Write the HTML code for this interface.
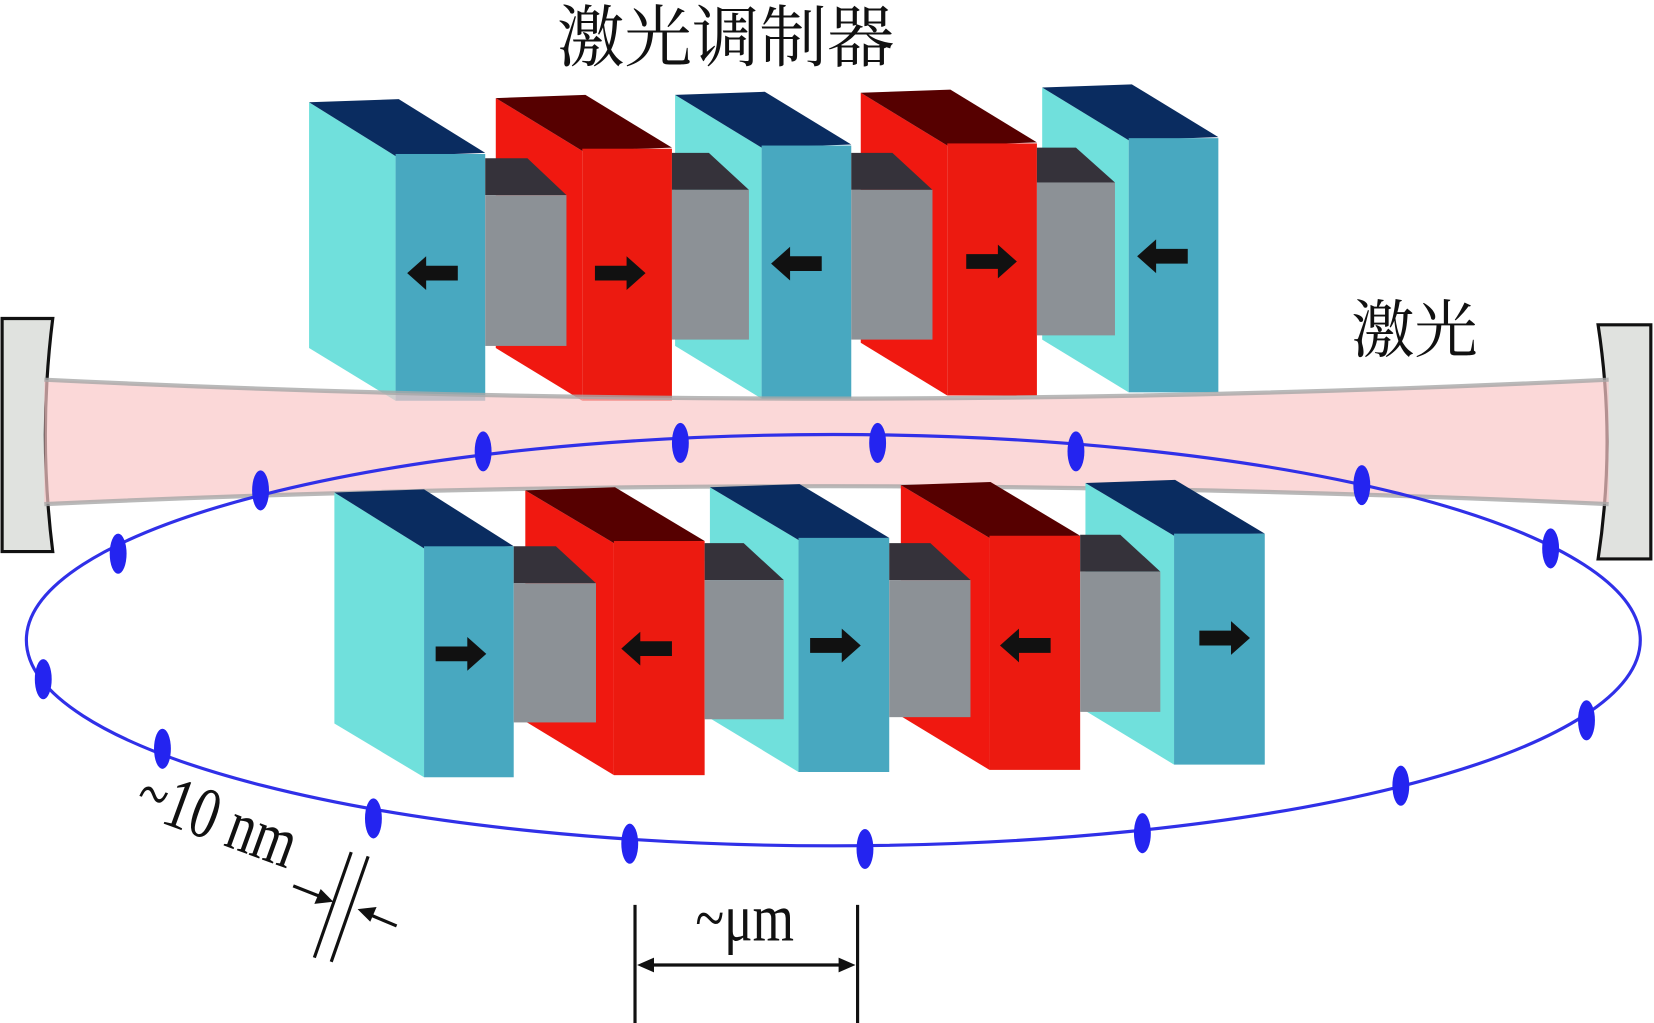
<!DOCTYPE html>
<html><head><meta charset="utf-8"><style>
html,body{margin:0;padding:0;background:#fff;}
svg{display:block;}
</style></head><body>
<svg width="1654" height="1023" viewBox="0 0 1568 970" preserveAspectRatio="none" xmlns="http://www.w3.org/2000/svg">
<defs>
<g id="arR"><polygon points="-24,-7 6,-7 6,-16 24,0 6,16 6,7 -24,7" fill="#111"/></g>
<g id="arL"><polygon points="24,-7 -6,-7 -6,-16 -24,0 -6,16 -6,7 24,7" fill="#111"/></g>
</defs>
<!-- mirrors -->
<path d="M2,302 L50,302 Q36,412 50,523 L2,523 Z" fill="#E0E2DF" stroke="#111" stroke-width="3"/>
<path d="M1515,308 L1565,308 L1565,530 L1515,530 Q1532,419 1515,308 Z" fill="#E0E2DF" stroke="#111" stroke-width="3"/>

<!-- top row slabs -->
<polygon points="293,97 375,148 375,380 293,330" fill="#70E0DC"/>
<polygon points="293,97 378,94 460,145 375,148" fill="#0A2C60"/>
<rect x="375" y="146" width="85" height="234" fill="#48A8C0"/>
<polygon points="470,93 552,143 552,380 470,330" fill="#F01810"/>
<polygon points="470,93 555,90 637,140 552,143" fill="#560000"/>
<rect x="552" y="141" width="85" height="239" fill="#EC1A10"/>
<polygon points="640,90 722,140 722,378 640,328" fill="#70E0DC"/>
<polygon points="640,90 725,87 807,137 722,140" fill="#0A2C60"/>
<rect x="722" y="138" width="85" height="240" fill="#48A8C0"/>
<polygon points="816,88 898,138 898,375 816,325" fill="#F01810"/>
<polygon points="816,88 901,85 983,135 898,138" fill="#560000"/>
<rect x="898" y="136" width="85" height="239" fill="#EC1A10"/>
<polygon points="988,83 1070,133 1070,372 988,322" fill="#70E0DC"/>
<polygon points="988,83 1073,80 1155,130 1070,133" fill="#0A2C60"/>
<rect x="1070" y="131" width="85" height="241" fill="#48A8C0"/>
<!-- top grays -->
<polygon points="460,150 500,150 537,185 460,185" fill="#35323A"/><rect x="460" y="185" width="77" height="143" fill="#8C9196"/>
<polygon points="637,145 672,145 710,180 637,180" fill="#35323A"/><rect x="637" y="180" width="73" height="142" fill="#8C9196"/>
<polygon points="807,145 846,145 884,180 807,180" fill="#35323A"/><rect x="807" y="180" width="77" height="142" fill="#8C9196"/>
<polygon points="983,140 1020,140 1057,173 983,173" fill="#35323A"/><rect x="983" y="173" width="74" height="145" fill="#8C9196"/>
<use href="#arL" x="410" y="259"/><use href="#arR" x="588" y="259"/><use href="#arL" x="755" y="250"/><use href="#arR" x="940" y="248"/><use href="#arL" x="1102" y="243"/>

<!-- beam -->
<path d="M42,360 Q783,396 1525,360 L1525,478 Q783,444 42,478 Z" fill="#F9C8C8" fill-opacity="0.7"/>
<path d="M42,360 Q783,396 1525,360" fill="none" stroke="#A8A8A8" stroke-width="4" opacity="0.8"/>
<path d="M42,478 Q783,444 1525,478" fill="none" stroke="#A8A8A8" stroke-width="4" opacity="0.8"/>

<!-- bottom slabs -->
<polygon points="317,467 402,520 402,737 317,686" fill="#70E0DC"/>
<polygon points="317,467 402,464 487,518 402,520" fill="#0A2C60"/>
<rect x="402" y="518" width="85" height="219" fill="#48A8C0"/>
<polygon points="498,465 582,515 582,735 498,684" fill="#F01810"/>
<polygon points="498,465 583,462 668,513 582,515" fill="#560000"/>
<rect x="582" y="513" width="86" height="222" fill="#EC1A10"/>
<polygon points="673,462 757,512 757,732 673,681" fill="#70E0DC"/>
<polygon points="673,462 758,459 843,510 757,512" fill="#0A2C60"/>
<rect x="757" y="510" width="86" height="222" fill="#48A8C0"/>
<polygon points="854,460 938,510 938,730 854,679" fill="#F01810"/>
<polygon points="854,460 939,457 1024,508 938,510" fill="#560000"/>
<rect x="938" y="508" width="86" height="222" fill="#EC1A10"/>
<polygon points="1029,458 1113,508 1113,725 1029,674" fill="#70E0DC"/>
<polygon points="1029,458 1114,455 1199,506 1113,508" fill="#0A2C60"/>
<rect x="1113" y="506" width="86" height="219" fill="#48A8C0"/>
<!-- bottom grays -->
<polygon points="487,518 527,518 565,553 487,553" fill="#35323A"/><rect x="487" y="553" width="78" height="132" fill="#8C9196"/>
<polygon points="668,515 705,515 743,550 668,550" fill="#35323A"/><rect x="668" y="550" width="75" height="132" fill="#8C9196"/>
<polygon points="843,515 882,515 920,550 843,550" fill="#35323A"/><rect x="843" y="550" width="77" height="130" fill="#8C9196"/>
<polygon points="1024,507 1062,507 1100,542 1024,542" fill="#35323A"/><rect x="1024" y="542" width="76" height="133" fill="#8C9196"/>
<use href="#arR" x="437" y="620"/><use href="#arL" x="613" y="615"/><use href="#arR" x="792" y="612"/><use href="#arL" x="972" y="612"/><use href="#arR" x="1161" y="605"/>

<!-- ellipse -->
<ellipse cx="790" cy="607" rx="765" ry="195" fill="none" stroke="#3030E8" stroke-width="3"/>
<g fill="#2424F0">
<ellipse cx="458" cy="428" rx="8" ry="19"/><ellipse cx="645" cy="420" rx="8" ry="19"/><ellipse cx="832" cy="420" rx="8" ry="19"/><ellipse cx="1020" cy="428" rx="8" ry="19"/>
<ellipse cx="1291" cy="460" rx="8" ry="19"/><ellipse cx="1470" cy="520" rx="8" ry="19"/><ellipse cx="1504" cy="683" rx="8" ry="19"/><ellipse cx="1328" cy="745" rx="8" ry="19"/>
<ellipse cx="1083" cy="790" rx="8" ry="19"/><ellipse cx="820" cy="805" rx="8" ry="19"/><ellipse cx="597" cy="800" rx="8" ry="19"/><ellipse cx="354" cy="776" rx="8" ry="19"/>
<ellipse cx="154" cy="710" rx="8" ry="19"/><ellipse cx="41" cy="644" rx="8" ry="19"/><ellipse cx="112" cy="525" rx="8" ry="19"/><ellipse cx="247" cy="465" rx="8" ry="19"/>
</g>

<!-- labels -->
<text x="688" y="58" text-anchor="middle" font-family="'Liberation Serif','Noto Serif CJK SC',serif" font-size="64" fill="#111">激光调制器</text>
<text x="1341" y="334" text-anchor="middle" font-family="'Liberation Serif','Noto Serif CJK SC',serif" font-size="60" fill="#111">激光</text>
<text x="0" y="0" transform="translate(125,770) rotate(20) scale(0.85,1.15)" font-family="'Liberation Serif',serif" font-size="60" fill="#111">~10 nm</text>
<text x="0" y="0" transform="translate(706,892) scale(0.9,1.15)" text-anchor="middle" font-family="'Liberation Serif',serif" font-size="56" fill="#111">~μm</text>

<!-- dimension marks -->
<g stroke="#111" stroke-width="3" fill="none">
<line x1="298" y1="908" x2="333" y2="808"/><line x1="314" y1="912" x2="349" y2="812"/>
<line x1="278" y1="840" x2="306" y2="851"/><line x1="376" y1="878" x2="350" y2="867"/>
<line x1="602" y1="858" x2="602" y2="970"/><line x1="813" y1="858" x2="813" y2="970"/>
<line x1="612" y1="915" x2="803" y2="915"/>
</g>
<g fill="#111">
<polygon points="316,855 298,857 304,843"/>
<polygon points="339,862 357,860 351,874"/>
<polygon points="604,915 620,908 620,922"/>
<polygon points="811,915 795,908 795,922"/>
</g>
</svg>
</body></html>
